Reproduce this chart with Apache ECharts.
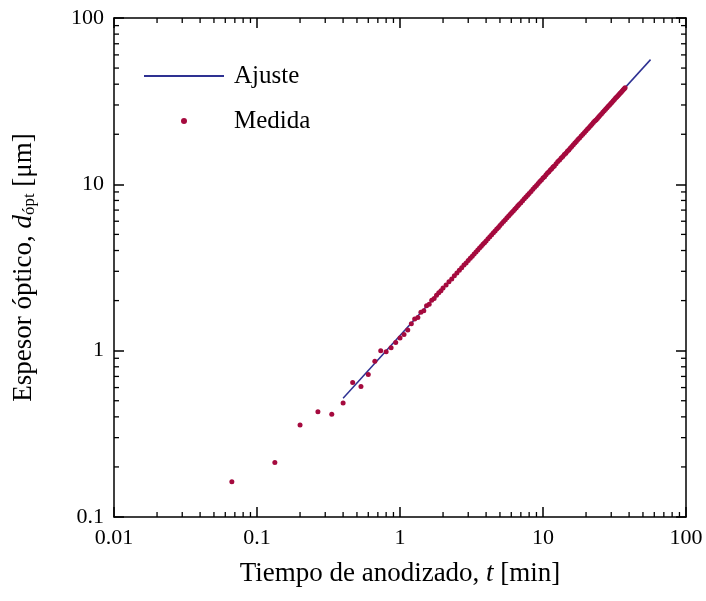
<!DOCTYPE html>
<html>
<head>
<meta charset="utf-8">
<script src="https://cdn.jsdelivr.net/npm/echarts@6/dist/echarts.min.js"></script>
<style>html,body{margin:0;padding:0;background:#fff;}#chart{width:706px;height:601px;}</style>
</head>
<body>
<div id="chart"></div>
<script>
// Measured data: anodizing time t [min] and optical thickness d_opt [um]
const tMeas = [
  0.0667,0.1333,0.2,0.2667,0.3333,0.4,0.4667,0.5333,0.6,0.6667,0.7333,0.8,0.8667,0.9333,1.0,1.0667,1.1333,
  1.2,1.2667,1.3333,1.4,1.4667,1.5333,1.6,1.6667,1.7333,1.8,1.8667,1.9333,2.0,
  2.1,2.2,2.3,2.4,2.5,2.6,2.7,2.8,2.9,3.0,
  3.1,3.2,3.3,3.4,3.5,3.6,3.7,3.8,3.9,4.0,
  4.125,4.25,4.375,4.5,4.625,4.75,4.875,5.0,
  5.15,5.3,5.45,5.6,5.75,5.9,6.05,6.2,6.35,6.5,6.65,6.8,
  7.0,7.2,7.4,7.6,7.8,8.0,8.25,8.5,8.75,9.0,9.25,9.5,9.75,
  10,10.25,10.5,10.75,11,11.25,11.5,11.75,12,
  12.35,12.7,13.05,13.4,13.75,14.1,14.45,14.8,15.15,15.5,15.9,16.3,16.7,17.1,17.55,18,
  18.5,19,19.5,20,20.5,21,21.5,22,22.5,23,23.5,24,24.5,25,
  25.6,26.2,26.8,27.4,28,28.6,29.2,29.8,30.4,31,31.6,32.2,32.8,33.4,34,34.6,35.2,35.8,36.4,37,37.5
];
const dMeas = [
  0.163,0.213,0.357,0.429,0.415,0.485,0.643,0.608,0.718,0.865,1.00,0.984,1.04,1.12,1.19,1.25,1.33,
  1.45,1.55,1.58,1.70,1.74,1.86,1.90,2.01,2.06,2.15,2.23,2.29,2.38,
  2.48,2.60,2.70,2.82,2.93,3.04,3.15,3.27,3.37,3.48,
  3.59,3.70,3.81,3.92,4.03,4.14,4.25,4.36,4.46,4.57,
  4.71,4.84,4.98,5.11,5.24,5.38,5.51,5.65,
  5.81,5.97,6.13,6.29,6.44,6.60,6.76,6.92,7.08,7.24,7.40,7.56,
  7.76,7.98,8.19,8.40,8.60,8.81,9.07,9.33,9.59,9.85,10.1,10.4,10.6,
  10.9,11.1,11.4,11.7,11.9,12.2,12.4,12.7,12.9,
  13.3,13.7,14.0,14.4,14.7,15.1,15.4,15.8,16.1,16.5,16.9,17.3,17.7,18.1,18.6,19.0,
  19.5,20.0,20.5,21.0,21.5,22.0,22.5,23.0,23.5,24.0,24.4,24.9,25.4,25.9,
  26.5,27.1,27.7,28.3,28.9,29.5,30.0,30.6,31.2,31.8,32.4,33.0,33.5,34.1,34.7,35.3,35.8,36.4,37.0,37.6,38.1
];
// Fit line end points
const tFit = [0.4, 56.5];
const dFit = [0.518, 56.2];
// Axis ranges and minor tick values
const xRange = [0.01, 100];
const yRange = [0.1, 100];
const xMinor = [0.02,0.03,0.04,0.05,0.06,0.07,0.08,0.09, 0.2,0.3,0.4,0.5,0.6,0.7,0.8,0.9, 2,3,4,5,6,7,8,9, 20,30,40,50,60,70,80,90];
const yMinor = [0.2,0.3,0.4,0.5,0.6,0.7,0.8,0.9, 2,3,4,5,6,7,8,9, 20,30,40,50,60,70,80,90];

const FONT = 'Liberation Serif';
const measData = tMeas.map((t, i) => [t, dMeas[i]]);
const fitData = tFit.map((t, i) => [t, dFit[i]]);

const chart = echarts.init(document.getElementById('chart'), null, {renderer: 'canvas'});
const axisLine = {show: true, lineStyle: {color: '#000', width: 1.5}};
const majorTick = {show: true, inside: true, length: 10, lineStyle: {color: '#000', width: 1.5}};
const tickStyle = {stroke: '#000', lineWidth: 1.3};

function xAxisCfg(pos, withLabels) {
  return {
    type: 'log', logBase: 10, min: xRange[0], max: xRange[1], position: pos,
    axisLine: axisLine, axisTick: majorTick, splitLine: {show: false},
    axisLabel: {show: withLabels, fontFamily: FONT, fontSize: 22, color: '#000', margin: 10},
    name: withLabels ? 'Tiempo de anodizado, {i|t} [min]' : '',
    nameLocation: 'middle', nameGap: 43,
    nameTextStyle: {fontFamily: FONT, fontSize: 27, color: '#000',
      rich: {i: {fontFamily: FONT, fontSize: 27, fontStyle: 'italic', color: '#000'}}}
  };
}
function yAxisCfg(pos, withLabels) {
  return {
    type: 'log', logBase: 10, min: yRange[0], max: yRange[1], position: pos,
    axisLine: axisLine, axisTick: majorTick, splitLine: {show: false},
    axisLabel: {show: withLabels, fontFamily: FONT, fontSize: 22, color: '#000', margin: 10},
    name: withLabels ? 'Espesor óptico, {i|d}{s|ópt} [μm]' : '',
    nameLocation: 'middle', nameGap: 76,
    nameTextStyle: {fontFamily: FONT, fontSize: 27, color: '#000',
      rich: {
        i: {fontFamily: FONT, fontSize: 27, fontStyle: 'italic', color: '#000'},
        s: {fontFamily: FONT, fontSize: 17, color: '#000', verticalAlign: 'bottom', padding: [11, 0, 0, 0]}
      }}
  };
}

const option = {
  animation: false,
  backgroundColor: '#fff',
  grid: {left: 114, right: 20, top: 18, bottom: 84, containLabel: false},
  xAxis: [xAxisCfg('bottom', true), xAxisCfg('top', false)],
  yAxis: [yAxisCfg('left', true), yAxisCfg('right', false)],
  legend: {
    left: 138, top: 58, orient: 'vertical',
    itemWidth: 80, itemHeight: 6, itemGap: 19,
    textStyle: {fontFamily: FONT, fontSize: 25, color: '#000', padding: [0, 0, 0, 5], lineHeight: 26},
    selectedMode: false,
    data: [
      {name: 'Ajuste', itemStyle: {color: 'rgba(0,0,0,0)', borderWidth: 0}},
      {name: 'Medida', icon: 'circle'}
    ]
  },
  series: [
    {
      name: 'Ajuste', type: 'line', data: fitData, showSymbol: false, symbol: 'none',
      lineStyle: {color: '#2E3192', width: 1.5}, itemStyle: {color: '#2E3192'},
      xAxisIndex: 0, yAxisIndex: 0, silent: true, z: 2
    },
    {
      name: 'Medida', type: 'scatter', data: measData, symbol: 'circle', symbolSize: 5,
      itemStyle: {color: '#A50A3E', opacity: 1}, xAxisIndex: 0, yAxisIndex: 0, silent: true, z: 3
    },
    {
      name: 'xminor', type: 'custom', xAxisIndex: 0, yAxisIndex: 0, silent: true, z: 5, clip: false,
      data: xMinor.map(v => [v, yRange[0]]),
      renderItem: function (params, api) {
        const v = api.value(0);
        const b = api.coord([v, yRange[0]]);
        const t = api.coord([v, yRange[1]]);
        return {type: 'group', children: [
          {type: 'line', shape: {x1: b[0], y1: b[1], x2: b[0], y2: b[1] - 5}, style: tickStyle},
          {type: 'line', shape: {x1: t[0], y1: t[1], x2: t[0], y2: t[1] + 5}, style: tickStyle}
        ]};
      }
    },
    {
      name: 'yminor', type: 'custom', xAxisIndex: 0, yAxisIndex: 0, silent: true, z: 5, clip: false,
      data: yMinor.map(v => [xRange[0], v]),
      renderItem: function (params, api) {
        const v = api.value(1);
        const l = api.coord([xRange[0], v]);
        const r = api.coord([xRange[1], v]);
        return {type: 'group', children: [
          {type: 'line', shape: {x1: l[0], y1: l[1], x2: l[0] + 5, y2: l[1]}, style: tickStyle},
          {type: 'line', shape: {x1: r[0], y1: r[1], x2: r[0] - 5, y2: r[1]}, style: tickStyle}
        ]};
      }
    }
  ]
};
chart.setOption(option);
</script>
</body>
</html>
